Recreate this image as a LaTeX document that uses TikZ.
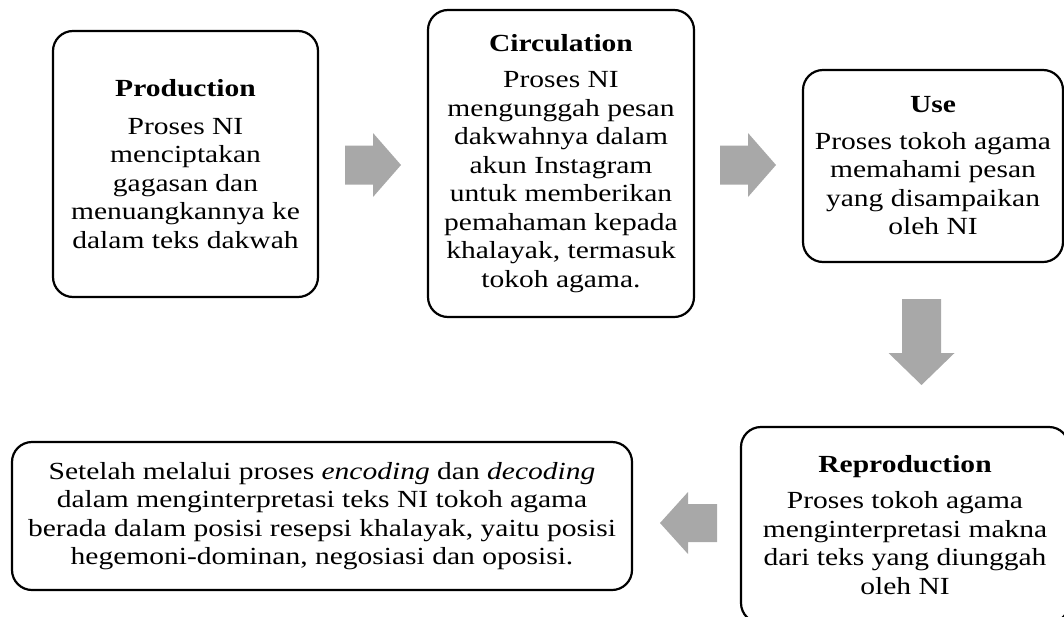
\documentclass[tikz,border=0pt]{standalone}
\usepackage{fontspec}
\setmainfont[FakeStretch=1.2]{Liberation Serif}
\definecolor{arrowgray}{RGB}{168,168,168}
\tikzset{
  box/.style={draw=black, line width=2.2pt, rounded corners=20pt, align=center, inner sep=0pt,
    font=\fontsize{24.6}{28.5}\selectfont},
  blockarrow/.style={fill=arrowgray, draw=none}
}
\begin{document}
\begin{tikzpicture}[x=1pt,y=-1pt]
\useasboundingbox (0,0) rectangle (1064,616);
\clip (0,0) rectangle (1064,616);
\node[box, minimum width=265pt, minimum height=266pt] (prod) at (185.5,164)
  {\textbf{Production}\\[9pt]Proses NI\\menciptakan\\gagasan dan\\menuangkannya ke\\dalam teks dakwah};
\node[box, minimum width=266pt, minimum height=307pt] (circ) at (561,163.5)
  {\textbf{Circulation}\\[8pt]Proses NI\\mengunggah pesan\\dakwahnya dalam\\akun Instagram\\untuk memberikan\\pemahaman kepada\\khalayak, termasuk\\tokoh agama.};
\node[box, minimum width=260pt, minimum height=192pt] (use) at (933,166)
  {\textbf{Use}\\[8pt]Proses tokoh agama\\memahami pesan\\yang disampaikan\\oleh NI};
\node[box, minimum width=328pt, minimum height=196pt] (repro) at (905,525)
  {\textbf{Reproduction}\\[8pt]Proses tokoh agama\\menginterpretasi makna\\dari teks yang diunggah\\oleh NI};
\node[box, minimum width=620pt, minimum height=148pt] (result) at (322,516)
  {Setelah melalui proses \emph{encoding} dan \emph{decoding}\\dalam menginterpretasi teks NI tokoh agama\\berada dalam posisi resepsi khalayak, yaitu posisi\\hegemoni-dominan, negosiasi dan oposisi.};
% block arrows
\coordinate (a1) at (345,165);
\fill[blockarrow] (a1) ++(0,-19.5) -- ++(28,0) -- ++(0,-12.5) -- ++(28,32) -- ++(-28,32) -- ++(0,-12.5) -- ++(-28,0) -- cycle;
\coordinate (a2) at (720,165);
\fill[blockarrow] (a2) ++(0,-19.5) -- ++(28,0) -- ++(0,-12.5) -- ++(28,32) -- ++(-28,32) -- ++(0,-12.5) -- ++(-28,0) -- cycle;
\coordinate (a3) at (921.5,299);
\fill[blockarrow] (a3) ++(-19.5,0) -- ++(0,54) -- ++(-13.5,0) -- ++(33,32) -- ++(33,-32) -- ++(-13.5,0) -- ++(0,-54) -- cycle;
\coordinate (a4) at (717,523);
\fill[blockarrow] (a4) ++(0,-19) -- ++(-29,0) -- ++(0,-12) -- ++(-28,31) -- ++(28,31) -- ++(0,-12) -- ++(29,0) -- cycle;
\end{tikzpicture}
\end{document}
